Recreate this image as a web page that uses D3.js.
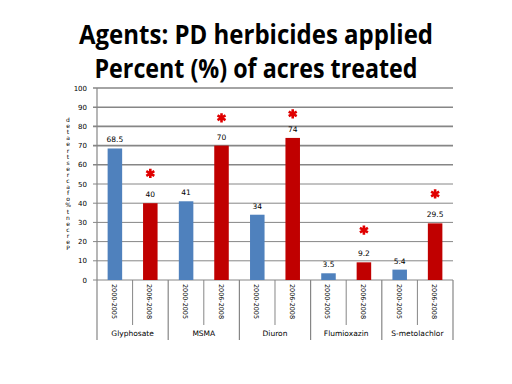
<!DOCTYPE html>
<html>
<head>
<meta charset="utf-8">
<script src="https://cdn.jsdelivr.net/npm/d3@7"></script>
<style>
  body { margin: 0; background: #fff; }
  svg { display: block; }
</style>
</head>
<body>
<div id="vizArea"></div>
<script>
// data
const agents = ['Glyphosate', 'MSMA', 'Diuron', 'Flumioxazin', 'S-metolachlor']
const periods = ['2000-2005', '2006-2008']
const values2005 = [68.5, 41, 34, 3.5, 5.4]
const values2008 = [40, 70, 74, 9.2, 29.5]
const starLevels = [55.5, 84.5, 86.5, 26, 44.8]   // where the red asterisks sit
const yTicks = [0, 10, 20, 30, 40, 50, 60, 70, 80, 90, 100]
const yLabel = 'Percent % of acres treated'
const titleLines = ['Agents: PD herbicides applied', 'Percent (%) of acres treated']

const colors = ['#4f81bd', '#c00000']

const width = 512, height = 384
const margin = {top: 88, left: 97, right: 59, bottom: 104}
const innerW = width - margin.left - margin.right
const innerH = height - margin.top - margin.bottom

const svg = d3.select('#vizArea').append('svg')
    .attr('width', width)
    .attr('height', height)

// title
svg.selectAll('text.title')
    .data(titleLines)
    .enter()
    .append('text')
    .attr('class', 'title')
    .attr('x', width / 2)
    .attr('y', (d, i) => 44 + i * 34)
    .attr('text-anchor', 'middle')
    .attr('font-family', 'Open Sans, Liberation Sans, sans-serif')
    .attr('font-weight', 'bold')
    .attr('font-size', 26)
    .attr('textLength', (d, i) => i === 0 ? 354 : 323)
    .attr('lengthAdjust', 'spacingAndGlyphs')
    .text(d => d)

const g = svg.append('g').attr('transform', `translate(${margin.left},${margin.top})`)

const x0 = d3.scaleBand().domain(agents).range([0, innerW])
const x1 = d3.scaleBand().domain(periods).range([0, x0.bandwidth()]).paddingInner(0.59).paddingOuter(0.3)
const y = d3.scaleLinear().domain([0, 100]).range([innerH, 0])

// grid lines + y ticks
g.selectAll('line.grid')
    .data(yTicks)
    .enter()
    .append('line')
    .attr('x1', -4)
    .attr('x2', innerW)
    .attr('y1', d => y(d))
    .attr('y2', d => y(d))
    .attr('stroke', '#868686')
    .attr('stroke-width', d => d >= 60 ? 1.6 : 1)

g.selectAll('text.ytick')
    .data(yTicks)
    .enter()
    .append('text')
    .attr('x', -10)
    .attr('y', d => y(d) + 2.5)
    .attr('text-anchor', 'end')
    .attr('font-family', 'DejaVu Sans, sans-serif')
    .attr('font-size', 7)
    .text(d => d)

g.append('line')
    .attr('x1', 0).attr('x2', 0)
    .attr('y1', 0).attr('y2', innerH + 60)
    .attr('stroke', '#868686')
    .attr('stroke-width', 1.2)

// stacked y label (bottom to top)
const chars = yLabel.replace(/ /g, '').split('').reverse()
g.selectAll('text.ylab')
    .data(chars)
    .enter()
    .append('text')
    .attr('x', -29)
    .attr('y', (d, i) => 34 + i * 6.1)
    .attr('text-anchor', 'middle')
    .attr('font-family', 'DejaVu Sans, sans-serif')
    .attr('font-size', 6)
    .text(d => d)

// bars
const rows = agents.map((a, i) => ({agent: a, vals: [values2005[i], values2008[i]], star: starLevels[i]}))

const groups = g.selectAll('g.agent')
    .data(rows)
    .enter()
    .append('g')
    .attr('transform', d => `translate(${x0(d.agent)},0)`)

groups.selectAll('rect')
    .data(d => d.vals.map((v, j) => ({period: periods[j], v: v, j: j})))
    .enter()
    .append('rect')
    .attr('x', d => x1(d.period))
    .attr('width', x1.bandwidth())
    .attr('y', d => y(d.v))
    .attr('height', d => innerH - y(d.v))
    .attr('fill', d => colors[d.j])

groups.selectAll('text.val')
    .data(d => d.vals.map((v, j) => ({period: periods[j], v: v})))
    .enter()
    .append('text')
    .attr('x', d => x1(d.period) + x1.bandwidth() / 2)
    .attr('y', d => y(d.v) - 6)
    .attr('text-anchor', 'middle')
    .attr('font-family', 'DejaVu Sans, sans-serif')
    .attr('font-size', 7.5)
    .text(d => d.v)

// significance asterisks
const star = d3.symbol().type(d3.symbolAsterisk).size(60)
groups.append('path')
    .attr('d', star)
    .attr('transform', d => `translate(${x1(periods[1]) + x1.bandwidth() / 2},${y(d.star)})`)
    .attr('fill', 'none')
    .attr('stroke', '#e00000')
    .attr('stroke-width', 2.6)

// x axis: period labels rotated
groups.selectAll('text.period')
    .data(periods)
    .enter()
    .append('text')
    .attr('transform', d => `translate(${x1(d) + x1.bandwidth() / 2 - 3},${innerH + 4}) rotate(90)`)
    .attr('font-family', 'DejaVu Sans, sans-serif')
    .attr('font-size', 6.5)
    .attr('textLength', 35)
    .attr('lengthAdjust', 'spacingAndGlyphs')
    .text(d => d)

// short divider between the two periods
groups.append('line')
    .attr('x1', x0.bandwidth() / 2).attr('x2', x0.bandwidth() / 2)
    .attr('y1', innerH).attr('y2', innerH + 45)
    .attr('stroke', '#868686')

// long dividers between agents
g.selectAll('line.sep')
    .data(agents)
    .enter()
    .append('line')
    .attr('x1', d => x0(d) + x0.bandwidth())
    .attr('x2', d => x0(d) + x0.bandwidth())
    .attr('y1', innerH)
    .attr('y2', innerH + 60)
    .attr('stroke', '#868686')
    .attr('stroke-width', 1.2)

g.selectAll('text.agent')
    .data(agents)
    .enter()
    .append('text')
    .attr('x', d => x0(d) + x0.bandwidth() / 2)
    .attr('y', innerH + 56)
    .attr('text-anchor', 'middle')
    .attr('font-family', 'DejaVu Sans, sans-serif')
    .attr('font-size', 7.5)
    .text(d => d)
</script>
</body>
</html>
